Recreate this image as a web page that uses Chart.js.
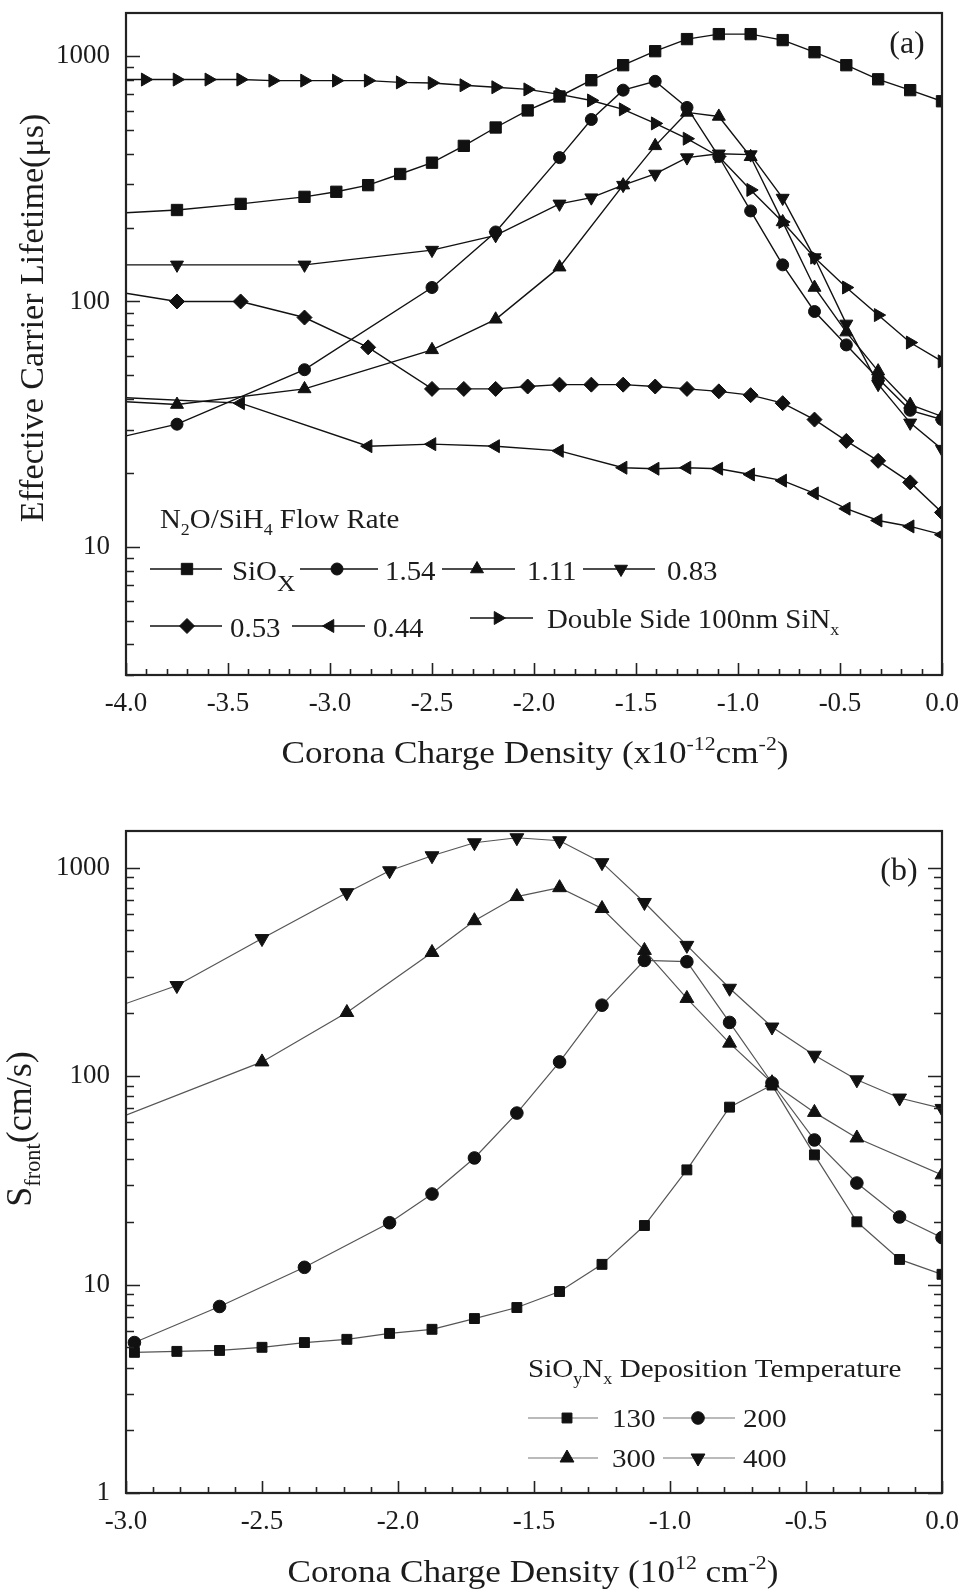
<!DOCTYPE html>
<html><head><meta charset="utf-8">
<script src="https://cdn.jsdelivr.net/npm/chart.js@4.4.1/dist/chart.umd.min.js"></script>
<style>
html,body{margin:0;padding:0;background:#fff;}
#wa{position:absolute;left:0;top:0;width:964px;height:790px;}
#wb{position:absolute;left:0;top:790px;width:964px;height:805px;}
</style></head><body>
<div id="wa"><canvas id="ca"></canvas></div>
<div id="wb"><canvas id="cb"></canvas></div>
<script>
const FONT = '"Liberation Serif", "Times New Roman", Times, serif';
const TXT = '#1c1c1c';

// ---------------- Panel (a) axes ----------------
const aXMin = -4, aXMax = 0;
const aYMin = 3, aYMax = 1500;
const aYLabels = [10, 100, 1000];

// ---------------- Panel (a) data ----------------
const aX_SiOx = [-4, -3.75, -3.438, -3.125, -2.969, -2.813, -2.656, -2.5, -2.344, -2.188, -2.031, -1.875, -1.719, -1.563, -1.406, -1.25, -1.094, -0.938, -0.781, -0.625, -0.469, -0.313, -0.156, 0];
const aY_SiOx = [230, 236, 250, 267, 280, 298, 331, 368, 431, 512, 601, 685, 798, 919, 1048, 1174, 1230, 1230, 1163, 1038, 919, 805, 727, 655];

const aX_154 = [-4, -3.75, -3.125, -2.5, -2.188, -1.875, -1.719, -1.563, -1.406, -1.25, -1.094, -0.938, -0.781, -0.625, -0.469, -0.313, -0.156, 0];
const aY_154 = [28.3, 31.6, 52.7, 114, 192, 386, 552, 727, 790, 618, 390, 234, 141, 91, 66.5, 48.5, 36, 33];

const aX_111 = [-4, -3.75, -3.125, -2.5, -2.188, -1.875, -1.563, -1.406, -1.25, -1.094, -0.938, -0.781, -0.625, -0.469, -0.313, -0.156, 0];
const aY_111 = [39, 38, 44, 63.5, 84.6, 138, 298, 431, 590, 568, 389, 211, 114, 75, 52, 38, 34];

const aX_083 = [-4, -3.75, -3.125, -2.5, -2.188, -1.875, -1.719, -1.563, -1.406, -1.25, -1.094, -0.938, -0.781, -0.625, -0.469, -0.313, -0.156, 0];
const aY_083 = [141, 141, 141, 162, 186, 250, 265, 298, 331, 386, 400, 397, 264, 151, 81, 46, 32, 25];

const aX_053 = [-4, -3.75, -3.438, -3.125, -2.813, -2.5, -2.344, -2.188, -2.031, -1.875, -1.719, -1.563, -1.406, -1.25, -1.094, -0.938, -0.781, -0.625, -0.469, -0.313, -0.156, 0];
const aY_053 = [108, 100, 100, 86, 65, 44, 44, 44, 45, 45.8, 45.8, 45.8, 45, 44, 43, 41.5, 38.5, 33, 27, 22.4, 18.3, 13.8];

const aX_044 = [-4, -3.438, -2.813, -2.5, -2.188, -1.875, -1.563, -1.406, -1.25, -1.094, -0.938, -0.781, -0.625, -0.469, -0.313, -0.156, 0];
const aY_044 = [40.5, 38.5, 25.7, 26.2, 25.7, 24.6, 21.0, 20.8, 21.0, 20.8, 19.7, 18.6, 16.5, 14.3, 12.8, 12.1, 11.2];

const aX_DS = [-4, -3.906, -3.75, -3.594, -3.438, -3.281, -3.125, -2.969, -2.813, -2.656, -2.5, -2.344, -2.188, -2.031, -1.875, -1.719, -1.563, -1.406, -1.25, -1.094, -0.938, -0.781, -0.625, -0.469, -0.313, -0.156, 0];
const aY_DS = [803, 803, 803, 803, 803, 795, 795, 795, 795, 782, 778, 761, 747, 732, 699, 660, 607, 532, 461, 390, 285, 211, 151, 114, 88, 68, 57];

// ---------------- Panel (b) axes ----------------
const bXMin = -3, bXMax = 0;
const bYMin = 1, bYMax = 1500;
const bYLabels = [1, 10, 100, 1000];

// ---------------- Panel (b) data ----------------
const bX_130 = [-2.969, -2.813, -2.656, -2.5, -2.344, -2.188, -2.031, -1.875, -1.719, -1.563, -1.406, -1.25, -1.094, -0.938, -0.781, -0.625, -0.469, -0.313, -0.156, 0];
const bY_130 = [4.73, 4.78, 4.83, 5.0, 5.27, 5.46, 5.83, 6.1, 6.87, 7.76, 9.26, 12.5, 19.2, 35.5, 71, 90.6, 41.9, 20, 13.2, 11.2];

const bX_200 = [-2.969, -2.656, -2.344, -2.031, -1.875, -1.719, -1.563, -1.406, -1.25, -1.094, -0.938, -0.781, -0.625, -0.469, -0.313, -0.156, 0];
const bY_200 = [5.27, 7.85, 12.1, 19.8, 27.2, 40.5, 66.5, 117, 219, 359, 354, 181, 92.7, 49.4, 30.7, 21.1, 16.8];

const bX_300 = [-3, -2.5, -2.188, -1.875, -1.719, -1.563, -1.406, -1.25, -1.094, -0.938, -0.781, -0.625, -0.469, -0.313, 0];
const bY_300 = [65, 117, 202, 392, 557, 727, 802, 637, 401, 236, 144, 93, 67, 50.5, 33.6];

const bX_400 = [-3, -2.813, -2.5, -2.188, -2.031, -1.875, -1.719, -1.563, -1.406, -1.25, -1.094, -0.938, -0.781, -0.625, -0.469, -0.313, -0.156, 0];
const bY_400 = [223, 272, 457, 759, 967, 1141, 1317, 1392, 1347, 1057, 681, 424, 264, 172, 126, 96, 78.5, 70];

// ---------------- helpers ----------------
function pts(xs, ys) { return xs.map((x, i) => ({ x: x, y: ys[i] })); }

function markerPath(ctx, style, rot, r, x, y) {
  ctx.beginPath();
  if (style === 'circle') { ctx.arc(x, y, r, 0, Math.PI * 2); }
  else if (style === 'rect') { const s = Math.SQRT1_2 * r; ctx.rect(x - s, y - s, 2 * s, 2 * s); }
  else if (style === 'rectRot') { ctx.moveTo(x - r, y); ctx.lineTo(x, y - r); ctx.lineTo(x + r, y); ctx.lineTo(x, y + r); ctx.closePath(); }
  else {
    let a = rot * Math.PI / 180;
    ctx.moveTo(x + Math.sin(a) * r, y - Math.cos(a) * r);
    a += 2 * Math.PI / 3; ctx.lineTo(x + Math.sin(a) * r, y - Math.cos(a) * r);
    a += 2 * Math.PI / 3; ctx.lineTo(x + Math.sin(a) * r, y - Math.cos(a) * r);
    ctx.closePath();
  }
  ctx.fill(); ctx.stroke();
}

// rich text: segs = [[text, mode]] mode 0 normal, 1 small sub, 2 sup, 3 big sub
function rich(ctx, segs, x, y, size, align, sx) {
  sx = sx || 1;
  const parts = segs.map(s => {
    const m = s[1] || 0;
    const fs = m === 0 ? size : (m === 3 ? size * 0.88 : size * 0.62);
    ctx.font = fs + 'px ' + FONT;
    return { t: s[0], m: m, fs: fs, w: ctx.measureText(s[0]).width };
  });
  const total = parts.reduce((a, p) => a + p.w, 0) * sx;
  let cx = align === 'center' ? x - total / 2 : (align === 'right' ? x - total : x);
  ctx.save();
  ctx.translate(cx, y);
  ctx.scale(sx, 1);
  ctx.fillStyle = TXT; ctx.textAlign = 'left'; ctx.textBaseline = 'alphabetic';
  let px = 0;
  for (const p of parts) {
    ctx.font = p.fs + 'px ' + FONT;
    const dy = p.m === 1 ? size * 0.26 : p.m === 2 ? -size * 0.40 : p.m === 3 ? size * 0.42 : 0;
    ctx.fillText(p.t, px, dy);
    px += p.w;
  }
  ctx.restore();
}

function makeDatasets(list, xmin, lineColor, lw) {
  return list.map(s => ({
    label: s.label,
    data: pts(s.xs, s.ys),
    borderColor: lineColor,
    borderWidth: lw,
    backgroundColor: '#111',
    pointBackgroundColor: '#111',
    pointBorderColor: '#111',
    pointBorderWidth: 1,
    pointStyle: s.style,
    pointRotation: s.rot,
    pointRadius: c => (c.raw && c.raw.x <= xmin + 1e-9) ? 0 : s.r,
    pointHoverRadius: c => (c.raw && c.raw.x <= xmin + 1e-9) ? 0 : s.r,
    tension: 0,
    fill: false
  }));
}

const decoPlugin = {
  id: 'deco',
  afterDatasetsDraw(chart) {
    const cfg = chart.options.plugins.deco;
    const ctx = chart.ctx;
    const { left, top, right, bottom } = chart.chartArea;
    const xs = chart.scales.x, ys = chart.scales.y;
    ctx.save();
    ctx.strokeStyle = '#222';
    ctx.lineWidth = 1.6;
    ctx.beginPath();
    const nx = Math.round((cfg.xMax - cfg.xMin) / 0.1);
    for (let i = 0; i <= nx; i++) {
      const v = cfg.xMin + i * 0.1;
      const major = i % 5 === 0;
      const px = Math.round(xs.getPixelForValue(v)) + 0.5;
      const L = major ? 12 : 6;
      ctx.moveTo(px, bottom); ctx.lineTo(px, bottom - L);
    }
    for (let e = -1; e <= 4; e++) {
      for (let d = 1; d <= 9; d++) {
        const v = d * Math.pow(10, e);
        if (v < cfg.yMin * 0.999 || v > cfg.yMax * 1.001) continue;
        const py = Math.round(ys.getPixelForValue(v)) + 0.5;
        const L = d === 1 ? 14 : 8;
        ctx.moveTo(left, py); ctx.lineTo(left + L, py);
        if (cfg.rightTicks) { ctx.moveTo(right, py); ctx.lineTo(right - L, py); }
      }
    }
    ctx.stroke();
    ctx.lineWidth = 2.2;
    ctx.strokeRect(left, top, right - left, bottom - top);
    ctx.restore();
  },
  afterDraw(chart) {
    const cfg = chart.options.plugins.deco;
    const ctx = chart.ctx;
    const oy = cfg.oy;
    rich(ctx, cfg.xTitle.segs, cfg.xTitle.x, cfg.xTitle.y - oy, cfg.xTitle.size, 'center', cfg.xTitle.sx);
    ctx.save();
    ctx.translate(cfg.yTitle.x, cfg.yTitle.y - oy);
    ctx.rotate(-Math.PI / 2);
    rich(ctx, cfg.yTitle.segs, 0, 0, cfg.yTitle.size, 'center', 1);
    ctx.restore();
    ctx.save();
    ctx.fillStyle = TXT; ctx.font = cfg.tag.size + 'px ' + FONT;
    ctx.textAlign = 'center'; ctx.textBaseline = 'middle';
    ctx.fillText(cfg.tag.text, cfg.tag.x, cfg.tag.y - oy);
    ctx.restore();
    const lg = cfg.legend;
    rich(ctx, lg.title.segs, lg.title.x, lg.title.y - oy, lg.size, 'left', lg.sx);
    ctx.save();
    for (const it of lg.items) {
      const s = cfg.series[it.si];
      ctx.strokeStyle = lg.lineColor; ctx.lineWidth = lg.lw;
      ctx.beginPath(); ctx.moveTo(it.x1, it.y - oy); ctx.lineTo(it.x2, it.y - oy); ctx.stroke();
      ctx.fillStyle = '#111'; ctx.strokeStyle = '#111'; ctx.lineWidth = 1;
      markerPath(ctx, s.style, s.rot, s.r, it.mx, it.y - oy);
      rich(ctx, it.segs, it.tx, it.ty - oy, lg.size, 'left', lg.sx);
    }
    ctx.restore();
  }
};

function logLabel(labels) {
  return function (v) {
    for (const L of labels) if (Math.abs(v - L) < 1e-6 * L) return String(L);
    return '';
  };
}
function fmtX(v) { return Math.abs(v) < 1e-9 ? '0.0' : v.toFixed(1); }
function fitY(s) { s.width = 126; s.paddingTop = 0; s.paddingBottom = 0; }
function fitX(s) { s.height = 60; s.paddingLeft = 0; s.paddingRight = 0; }

// ---------------- Chart (a) ----------------
const seriesA = [
  { label: 'SiOx', xs: aX_SiOx, ys: aY_SiOx, style: 'rect', rot: 0, r: 8 },
  { label: '1.54', xs: aX_154, ys: aY_154, style: 'circle', rot: 0, r: 6 },
  { label: '1.11', xs: aX_111, ys: aY_111, style: 'triangle', rot: 0, r: 7.5 },
  { label: '0.83', xs: aX_083, ys: aY_083, style: 'triangle', rot: 180, r: 7.5 },
  { label: '0.53', xs: aX_053, ys: aY_053, style: 'rectRot', rot: 0, r: 7.5 },
  { label: '0.44', xs: aX_044, ys: aY_044, style: 'triangle', rot: 270, r: 7.5 },
  { label: 'Double Side 100nm SiNx', xs: aX_DS, ys: aY_DS, style: 'triangle', rot: 90, r: 7.5 }
];

const tickFont = { family: FONT, size: 27 };

new Chart(document.getElementById('ca'), {
  type: 'line',
  data: { datasets: makeDatasets(seriesA, aXMin, '#111', 1.4) },
  options: {
    responsive: true, maintainAspectRatio: false, animation: false, devicePixelRatio: 1,
    layout: { padding: { left: 0, top: 13, right: 22, bottom: 55 } },
    scales: {
      x: {
        type: 'linear', min: aXMin, max: aXMax,
        ticks: { stepSize: 0.5, callback: fmtX, font: tickFont, color: TXT, padding: 13, autoSkip: false, maxRotation: 0 },
        grid: { display: false, drawTicks: false }, border: { display: false },
        afterFit: fitX
      },
      y: {
        type: 'logarithmic', min: aYMin, max: aYMax,
        ticks: { callback: logLabel(aYLabels), font: tickFont, color: TXT, padding: 16, autoSkip: false },
        grid: { display: false, drawTicks: false }, border: { display: false },
        afterFit: fitY
      }
    },
    plugins: {
      legend: { display: false }, tooltip: { enabled: false },
      deco: {
        oy: 0, xMin: aXMin, xMax: aXMax, yMin: aYMin, yMax: aYMax, rightTicks: false,
        series: seriesA,
        xTitle: { segs: [['Corona Charge Density (x10'], ['-12', 2], ['cm'], ['-2', 2], [')']], x: 535, y: 763, size: 32, sx: 1.1 },
        yTitle: { segs: [['Effective Carrier Lifetime(\u03bcs)']], x: 43, y: 318, size: 34 },
        tag: { text: '(a)', x: 907, y: 45, size: 32 },
        legend: {
          size: 27, sx: 1.07, lineColor: '#111', lw: 1.4,
          title: { segs: [['N'], ['2', 1], ['O/SiH'], ['4', 1], [' Flow Rate']], x: 160, y: 528 },
          items: [
            { si: 0, x1: 150, x2: 222, mx: 187, y: 569, tx: 232, ty: 580, segs: [['SiO'], ['X', 3]] },
            { si: 1, x1: 300, x2: 378, mx: 337, y: 569, tx: 385, ty: 580, segs: [['1.54']] },
            { si: 2, x1: 442, x2: 515, mx: 477, y: 569, tx: 527, ty: 580, segs: [['1.11']] },
            { si: 3, x1: 583, x2: 655, mx: 621, y: 569, tx: 667, ty: 580, segs: [['0.83']] },
            { si: 4, x1: 150, x2: 222, mx: 187, y: 626, tx: 230, ty: 637, segs: [['0.53']] },
            { si: 5, x1: 292, x2: 365, mx: 330, y: 626, tx: 373, ty: 637, segs: [['0.44']] },
            { si: 6, x1: 470, x2: 533, mx: 498, y: 618, tx: 547, ty: 628, segs: [['Double Side 100nm SiN'], ['x', 1]] }
          ]
        }
      }
    }
  },
  plugins: [decoPlugin]
});

// ---------------- Chart (b) ----------------
const seriesB = [
  { label: '130', xs: bX_130, ys: bY_130, style: 'rect', rot: 0, r: 7 },
  { label: '200', xs: bX_200, ys: bY_200, style: 'circle', rot: 0, r: 6.3 },
  { label: '300', xs: bX_300, ys: bY_300, style: 'triangle', rot: 0, r: 8 },
  { label: '400', xs: bX_400, ys: bY_400, style: 'triangle', rot: 180, r: 8 }
];

new Chart(document.getElementById('cb'), {
  type: 'line',
  data: { datasets: makeDatasets(seriesB, bXMin, '#555', 1.2) },
  options: {
    responsive: true, maintainAspectRatio: false, animation: false, devicePixelRatio: 1,
    layout: { padding: { left: 0, top: 41, right: 22, bottom: 42 } },
    scales: {
      x: {
        type: 'linear', min: bXMin, max: bXMax,
        ticks: { stepSize: 0.5, callback: fmtX, font: tickFont, color: TXT, padding: 13, autoSkip: false, maxRotation: 0 },
        grid: { display: false, drawTicks: false }, border: { display: false },
        afterFit: fitX
      },
      y: {
        type: 'logarithmic', min: bYMin, max: bYMax,
        ticks: { callback: logLabel(bYLabels), font: tickFont, color: TXT, padding: 16, autoSkip: false },
        grid: { display: false, drawTicks: false }, border: { display: false },
        afterFit: fitY
      }
    },
    plugins: {
      legend: { display: false }, tooltip: { enabled: false },
      deco: {
        oy: 790, xMin: bXMin, xMax: bXMax, yMin: bYMin, yMax: bYMax, rightTicks: true,
        series: seriesB,
        xTitle: { segs: [['Corona Charge Density (10'], ['12', 2], [' cm'], ['-2', 2], [')']], x: 533, y: 1582, size: 32, sx: 1.1 },
        yTitle: { segs: [['S'], ['front', 1], ['(cm/s)']], x: 31, y: 1129, size: 36 },
        tag: { text: '(b)', x: 899, y: 872, size: 32 },
        legend: {
          size: 26, sx: 1.12, lineColor: '#777', lw: 1.2,
          title: { segs: [['SiO'], ['y', 1], ['N'], ['x', 1], [' Deposition Temperature']], x: 528, y: 1377 },
          items: [
            { si: 0, x1: 528, x2: 598, mx: 567, y: 1418, tx: 612, ty: 1427, segs: [['130']] },
            { si: 1, x1: 663, x2: 735, mx: 698, y: 1418, tx: 743, ty: 1427, segs: [['200']] },
            { si: 2, x1: 528, x2: 598, mx: 567, y: 1458, tx: 612, ty: 1467, segs: [['300']] },
            { si: 3, x1: 663, x2: 735, mx: 698, y: 1458, tx: 743, ty: 1467, segs: [['400']] }
          ]
        }
      }
    }
  },
  plugins: [decoPlugin]
});
</script>
</body></html>
